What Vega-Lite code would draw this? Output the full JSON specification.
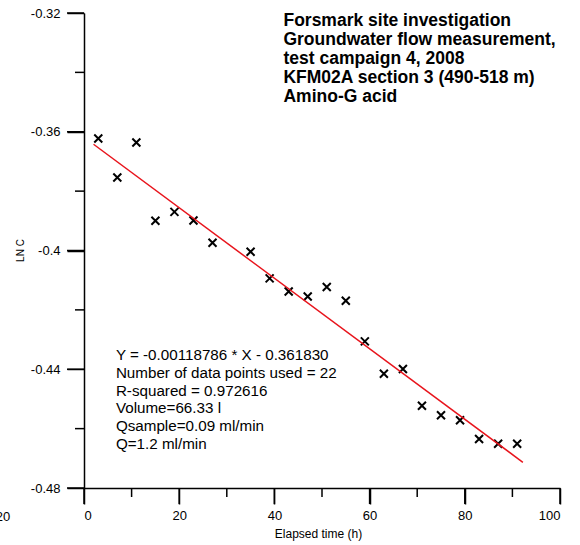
{
  "$schema": "https://vega.github.io/schema/vega-lite/v6.json",
  "width": 476,
  "height": 475,
  "autosize": {"type": "none"},
  "padding": {"left": 84, "top": 13, "right": 20, "bottom": 57},
  "background": "white",
  "config": {
    "view": {"stroke": null},
    "font": "Liberation Sans",
    "axis": {"domainColor": "black", "domainWidth": 1.5, "labelColor": "black", "titleColor": "black", "grid": false, "labelFont": "Liberation Sans", "titleFont": "Liberation Sans", "titleFontWeight": "normal"}
  },
  "datasets": {
    "pts": [
      {"t": 3, "lnc": -0.3623}, {"t": 7, "lnc": -0.3754}, {"t": 11, "lnc": -0.3636}, {"t": 15, "lnc": -0.3900},
      {"t": 19, "lnc": -0.3870}, {"t": 23, "lnc": -0.3899}, {"t": 27, "lnc": -0.3974}, {"t": 35, "lnc": -0.4004},
      {"t": 39, "lnc": -0.4094}, {"t": 43, "lnc": -0.4138}, {"t": 47, "lnc": -0.4155}, {"t": 51, "lnc": -0.4123},
      {"t": 55, "lnc": -0.4169}, {"t": 59, "lnc": -0.4306}, {"t": 63, "lnc": -0.4415}, {"t": 67, "lnc": -0.4399},
      {"t": 71, "lnc": -0.4523}, {"t": 75, "lnc": -0.4555}, {"t": 79, "lnc": -0.4572}, {"t": 83, "lnc": -0.4635},
      {"t": 87, "lnc": -0.4651}, {"t": 91, "lnc": -0.4651}
    ],
    "fit": [{"t": 2, "lnc": -0.36421}, {"t": 92.2, "lnc": -0.47135}],
    "xmajor": [{"v": 0}, {"v": 20}, {"v": 40}, {"v": 60}, {"v": 80}, {"v": 100}],
    "xminor": [{"v": 10}, {"v": 30}, {"v": 50}, {"v": 70}, {"v": 90}],
    "ymajor": [{"v": -0.48}, {"v": -0.44}, {"v": -0.4}, {"v": -0.36}, {"v": -0.32}],
    "yminor": [{"v": -0.46}, {"v": -0.42}, {"v": -0.38}, {"v": -0.34}],
    "title": [
      {"t": 41.9, "lnc": -0.32286, "txt": "Forsmark site investigation"},
      {"t": 41.9, "lnc": -0.32918, "txt": "Groundwater flow measurement,"},
      {"t": 41.9, "lnc": -0.33549, "txt": "test campaign 4, 2008"},
      {"t": 41.9, "lnc": -0.34181, "txt": "KFM02A section 3 (490-518 m)"},
      {"t": 41.9, "lnc": -0.34813, "txt": "Amino-G acid"}
    ],
    "stats": [
      {"t": 6.7, "lnc": -0.4353, "txt": "Y = -0.00118786 * X - 0.361830"},
      {"t": 6.7, "lnc": -0.44126, "txt": "Number of data points used = 22"},
      {"t": 6.7, "lnc": -0.44722, "txt": "R-squared = 0.972616"},
      {"t": 6.7, "lnc": -0.45319, "txt": "Volume=66.33 l"},
      {"t": 6.7, "lnc": -0.45915, "txt": "Qsample=0.09 ml/min"},
      {"t": 6.7, "lnc": -0.46511, "txt": "Q=1.2 ml/min"}
    ],
    "frag": [{"t": -15.5, "lnc": -0.4898, "txt": "20"}]
  },
  "resolve": {"axis": {"x": "independent", "y": "independent"}},
  "layer": [
    {
      "data": {"name": "pts"},
      "mark": {"type": "point", "shape": "M-1,-1L1,1M-1,1L1,-1", "filled": false, "stroke": "black", "strokeWidth": 2, "size": 64, "opacity": 1},
      "encoding": {
        "x": {
          "field": "t", "type": "quantitative",
          "scale": {"domain": [0, 100], "nice": false, "zero": false},
          "axis": {
            "orient": "bottom",
            "values": [0, 20, 40, 60, 80, 100],
            "ticks": true, "tickSize": 16, "tickWidth": 1.5, "tickColor": "black",
            "labelFontSize": 13,
            "labelPadding": 5,
            "title": "Elapsed time (h)",
            "titleFontSize": 12,
            "titleX": 234,
            "titleY": 45,
            "titleBaseline": "middle"
          }
        },
        "y": {
          "field": "lnc", "type": "quantitative",
          "scale": {"domain": [-0.48, -0.32], "nice": false, "zero": false},
          "axis": {
            "orient": "left",
            "values": [-0.48, -0.44, -0.4, -0.36, -0.32],
            "labelExpr": "replace(format(datum.value, '~g'), '\u2212', '-')",
            "ticks": true, "tickSize": 17, "tickWidth": 1.5, "tickColor": "black",
            "labelFontSize": 13,
            "labelPadding": 7,
            "title": "LN C",
            "titleFontSize": 10,
            "titleAngle": -90,
            "titleX": -64,
            "titleY": 237,
            "titleAlign": "center",
            "titleBaseline": "middle"
          }
        }
      }
    },
    {
      "data": {"name": "xmajor"},
      "mark": {"type": "rule", "color": "black", "strokeWidth": 1.5, "y2Offset": 16, "clip": false},
      "encoding": {
        "x": {"field": "v", "type": "quantitative", "axis": null},
        "y": {"datum": -0.48, "type": "quantitative", "axis": null},
        "y2": {"datum": -0.48}
      }
    },
    {
      "data": {"name": "xminor"},
      "mark": {"type": "rule", "color": "black", "strokeWidth": 1.5, "y2Offset": 9, "clip": false},
      "encoding": {
        "x": {"field": "v", "type": "quantitative", "axis": null},
        "y": {"datum": -0.48, "type": "quantitative", "axis": null},
        "y2": {"datum": -0.48}
      }
    },
    {
      "data": {"name": "ymajor"},
      "mark": {"type": "rule", "color": "black", "strokeWidth": 1.5, "x2Offset": -17, "clip": false},
      "encoding": {
        "y": {"field": "v", "type": "quantitative", "axis": null},
        "x": {"datum": 0, "type": "quantitative", "axis": null},
        "x2": {"datum": 0}
      }
    },
    {
      "data": {"name": "yminor"},
      "mark": {"type": "rule", "color": "black", "strokeWidth": 1.5, "x2Offset": -9, "clip": false},
      "encoding": {
        "y": {"field": "v", "type": "quantitative", "axis": null},
        "x": {"datum": 0, "type": "quantitative", "axis": null},
        "x2": {"datum": 0}
      }
    },
    {
      "data": {"name": "fit"},
      "mark": {"type": "line", "color": "#e8141c", "strokeWidth": 1.5},
      "encoding": {
        "x": {"field": "t", "type": "quantitative", "axis": null},
        "y": {"field": "lnc", "type": "quantitative", "axis": null}
      }
    },
    {
      "data": {"name": "title"},
      "mark": {"type": "text", "align": "left", "baseline": "middle", "fontSize": 17.5, "fontWeight": "bold", "color": "black"},
      "encoding": {
        "x": {"field": "t", "type": "quantitative", "axis": null},
        "y": {"field": "lnc", "type": "quantitative", "axis": null},
        "text": {"field": "txt"}
      }
    },
    {
      "data": {"name": "stats"},
      "mark": {"type": "text", "align": "left", "baseline": "middle", "fontSize": 15.2, "color": "black"},
      "encoding": {
        "x": {"field": "t", "type": "quantitative", "axis": null},
        "y": {"field": "lnc", "type": "quantitative", "axis": null},
        "text": {"field": "txt"}
      }
    },
    {
      "data": {"name": "frag"},
      "mark": {"type": "text", "align": "right", "baseline": "middle", "fontSize": 13, "color": "black", "clip": false},
      "encoding": {
        "x": {"field": "t", "type": "quantitative", "axis": null},
        "y": {"field": "lnc", "type": "quantitative", "axis": null},
        "text": {"field": "txt"}
      }
    }
  ]
}
